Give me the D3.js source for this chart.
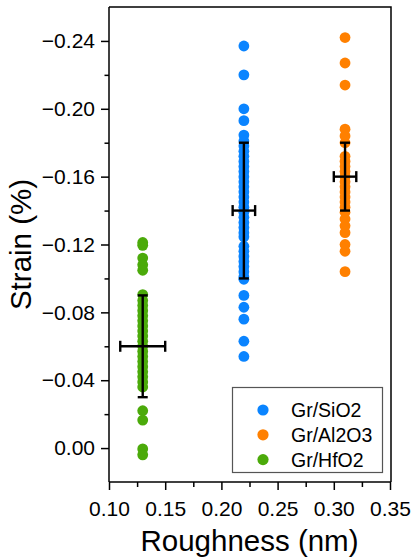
<!DOCTYPE html>
<html>
<head>
<meta charset="utf-8">
<script src="https://cdn.jsdelivr.net/npm/d3@7"></script>
<style>
html,body{margin:0;padding:0;background:#fff;}
svg{display:block;font-family:"Liberation Sans",Arial,sans-serif;}
</style>
</head>
<body>
<svg id="chart" width="415" height="558"></svg>
<script>
// ---- data ----
const categories = ["Gr/SiO2", "Gr/Al2O3", "Gr/HfO2"];
const colors = ["#0A84FF", "#FF8000", "#4BAA0A"];
const roughness = [0.22, 0.31, 0.13];
const roughnessErr = [0.01, 0.01, 0.02];
const strainMean = [-0.14, -0.16, -0.06];
const strainErr = [0.04, 0.02, 0.03];

const sio2Strain = [-0.237, -0.220, -0.200, -0.193, -0.1845, -0.181, -0.178, -0.175, -0.172,
  -0.169, -0.166, -0.163, -0.160, -0.157, -0.154, -0.151, -0.148, -0.145, -0.142, -0.139,
  -0.136, -0.133, -0.130, -0.127, -0.1245, -0.119, -0.116, -0.113, -0.110, -0.107, -0.104,
  -0.101, -0.0995, -0.090, -0.083, -0.076, -0.063, -0.054];
const al2o3Strain = [-0.242, -0.227, -0.214, -0.188, -0.184, -0.180, -0.172, -0.169, -0.166,
  -0.163, -0.160, -0.157, -0.154, -0.151, -0.148, -0.145, -0.142, -0.139, -0.135, -0.131,
  -0.127, -0.120, -0.116, -0.104];
const hfo2Strain = [-0.1212, -0.1195, -0.112, -0.108, -0.1048, -0.0905, -0.087, -0.084, -0.081,
  -0.078, -0.075, -0.072, -0.069, -0.066, -0.063, -0.060, -0.057, -0.054, -0.051, -0.048,
  -0.045, -0.042, -0.039, -0.036, -0.022, -0.0165, 0.0005, 0.004];
const seriesValues = [sio2Strain, al2o3Strain, hfo2Strain];

const xTicks = [0.10, 0.15, 0.20, 0.25, 0.30, 0.35];
const xTickLabels = ["0.10", "0.15", "0.20", "0.25", "0.30", "0.35"];
const xMinorTicks = [0.125, 0.175, 0.225, 0.275, 0.325];
const yTicks = [0, -0.04, -0.08, -0.12, -0.16, -0.20, -0.24];
const yTickLabels = ["0.00", "\u22120.04", "\u22120.08", "\u22120.12", "\u22120.16", "\u22120.20", "\u22120.24"];
const yMinorTicks = [-0.02, -0.06, -0.10, -0.14, -0.18, -0.22];

// ---- layout ----
const L = 109, R = 391, T = 7, B = 482;
const svg = d3.select("#chart");
const x = d3.scaleLinear().domain([0.10, 0.35]).range([L, 390]);
const y = d3.scaleLinear().domain([0.02, -0.26]).range([B, T]);

// points
const pts = [];
seriesValues.forEach((vals, i) => vals.forEach(v => pts.push({i, v})));
svg.append("g").selectAll("circle").data(pts).join("circle")
  .attr("cx", d => x(roughness[d.i]))
  .attr("cy", d => y(d.v))
  .attr("r", 5.4)
  .attr("fill", d => colors[d.i]);

// error bars
const eb = svg.append("g").attr("stroke", "#000").attr("stroke-width", 2.4).attr("fill", "none");
categories.forEach((c, i) => {
  const cx = x(roughness[i]), cy = y(strainMean[i]);
  const y1 = y(strainMean[i] - strainErr[i]), y2 = y(strainMean[i] + strainErr[i]);
  const x1 = x(roughness[i] - roughnessErr[i]), x2 = x(roughness[i] + roughnessErr[i]);
  eb.append("line").attr("x1", cx).attr("x2", cx).attr("y1", y1).attr("y2", y2);
  eb.append("line").attr("x1", cx - 5).attr("x2", cx + 5).attr("y1", y1).attr("y2", y1);
  eb.append("line").attr("x1", cx - 5).attr("x2", cx + 5).attr("y1", y2).attr("y2", y2);
  eb.append("line").attr("x1", x1).attr("x2", x2).attr("y1", cy).attr("y2", cy);
  eb.append("line").attr("x1", x1).attr("x2", x1).attr("y1", cy - 5.5).attr("y2", cy + 5.5);
  eb.append("line").attr("x1", x2).attr("x2", x2).attr("y1", cy - 5.5).attr("y2", cy + 5.5);
});

// frame top/right
svg.append("path").attr("d", `M${L},${T}H${R}V${B}`).attr("stroke", "#000").attr("stroke-width", 1.5).attr("fill", "none");

// x axis
const xAxis = svg.append("g").attr("transform", `translate(0,${B})`)
  .call(d3.axisBottom(x).tickValues(xTicks).tickSize(8).tickFormat((d, k) => xTickLabels[k]));
xAxis.select(".domain").attr("d", `M${L},0H${R}`);
svg.append("g").attr("transform", `translate(0,${B})`)
  .call(d3.axisBottom(x).tickValues(xMinorTicks).tickSize(5).tickFormat(""))
  .select(".domain").remove();

// y axis
const yAxis = svg.append("g").attr("transform", `translate(${L},0)`)
  .call(d3.axisLeft(y).tickValues(yTicks).tickSize(8).tickPadding(6).tickFormat((d, k) => yTickLabels[k]));
yAxis.select(".domain").attr("d", `M0,${T}V${B}`);
svg.append("g").attr("transform", `translate(${L},0)`)
  .call(d3.axisLeft(y).tickValues(yMinorTicks).tickSize(4.5).tickFormat(""))
  .select(".domain").remove();

svg.selectAll(".tick line, .domain").attr("stroke", "#000").attr("stroke-width", 1.5);
svg.selectAll(".tick text").attr("fill", "#000").attr("font-size", 21)
  .attr("font-family", "'Liberation Sans', Arial, sans-serif");
xAxis.selectAll(".tick text").attr("dy", "0.95em").attr("y", 14);

// titles
svg.append("text").attr("x", (L + 390) / 2).attr("y", 551).attr("text-anchor", "middle")
  .attr("font-size", 29.5).attr("fill", "#000").text("Roughness (nm)");
svg.append("text").attr("transform", `translate(31,${(T + B) / 2}) rotate(-90)`)
  .attr("text-anchor", "middle").attr("font-size", 29.5).attr("fill", "#000").text("Strain (%)");

// legend
const lg = svg.append("g");
lg.append("rect").attr("x", 232.5).attr("y", 387.5).attr("width", 150).attr("height", 85)
  .attr("fill", "#fff").attr("stroke", "#555").attr("stroke-width", 1.2);
categories.forEach((c, i) => {
  const ly = 410 + i * 24.8;
  lg.append("circle").attr("cx", 263).attr("cy", ly).attr("r", 5.6).attr("fill", colors[i]);
  lg.append("text").attr("x", 291).attr("y", ly).attr("dy", "0.36em")
    .attr("font-size", 19.5).attr("fill", "#000").text(c);
});
</script>
</body>
</html>
